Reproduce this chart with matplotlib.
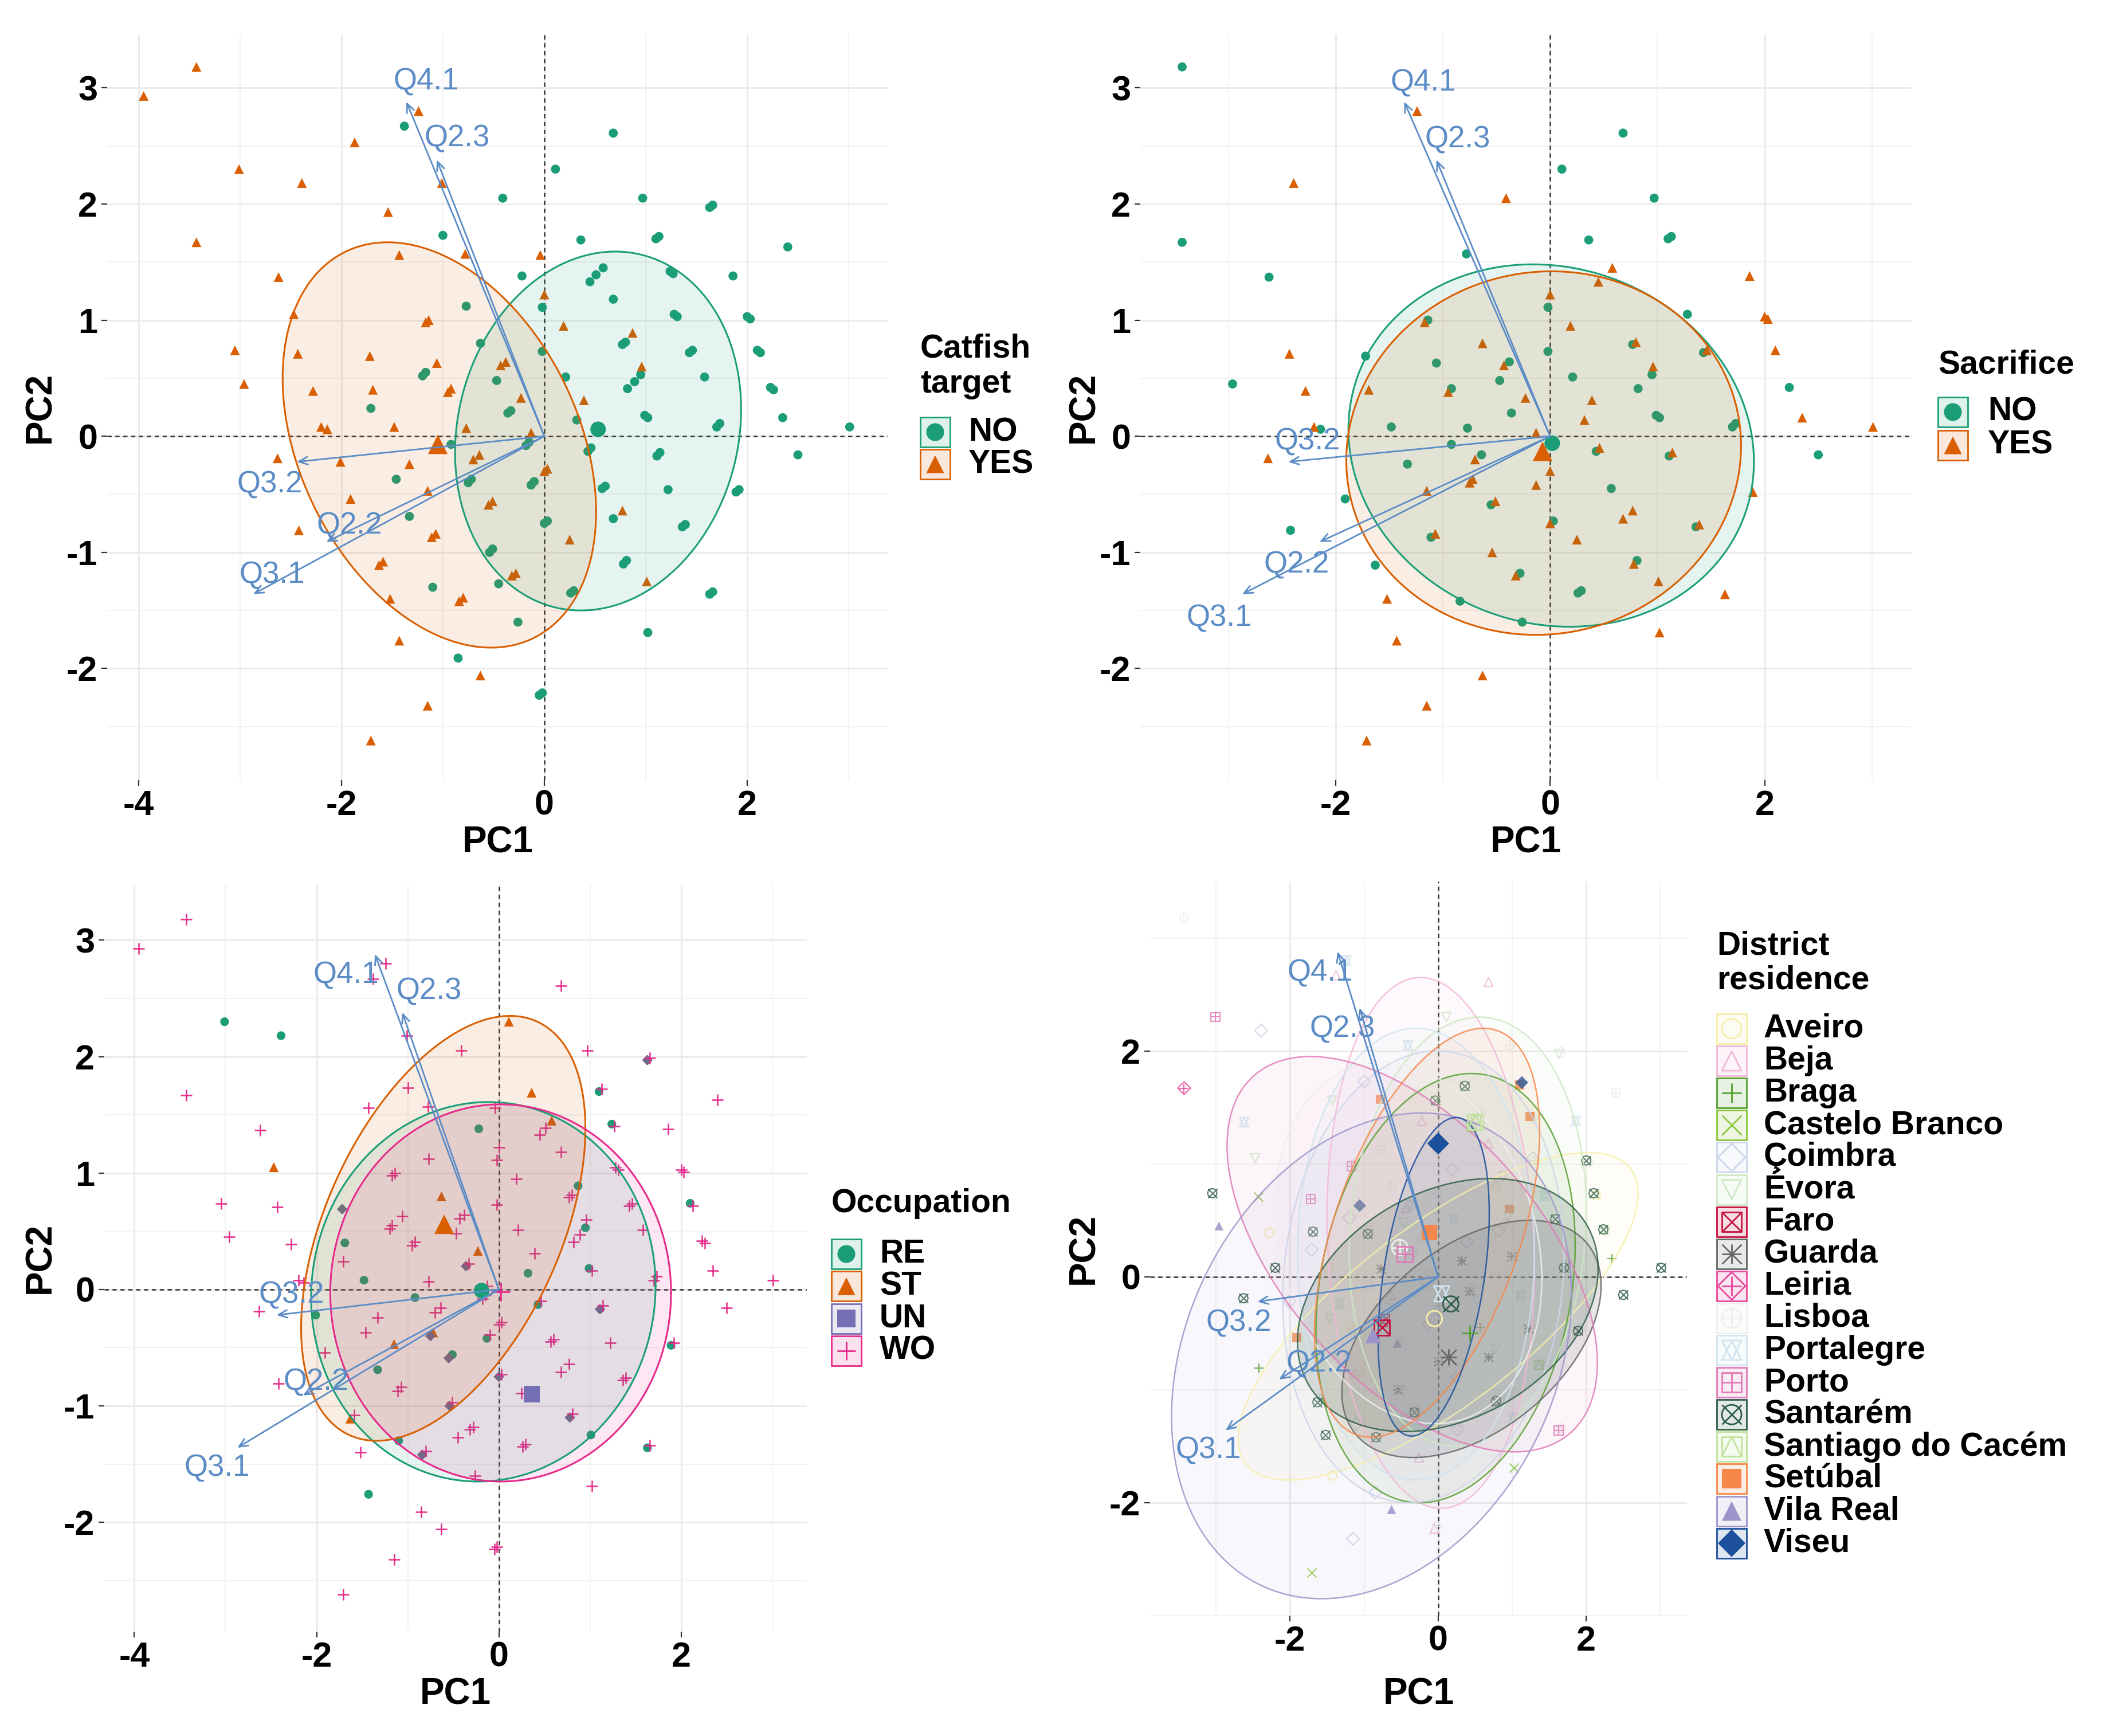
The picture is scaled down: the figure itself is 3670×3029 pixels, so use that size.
import numpy as np
import matplotlib.pyplot as plt
from matplotlib.colors import to_rgba
from matplotlib.patches import Rectangle

plt.rcParams['font.family'] = ['Liberation Sans', 'DejaVu Sans']
plt.rcParams['font.weight'] = 'bold'
plt.rcParams['axes.unicode_minus'] = False

W, H = 3670, 3029
fig = plt.figure(figsize=(W / 100, H / 100), dpi=100)

# ---------------- data ----------------
# PCA scores of the respondents (same people in the four panels)
pc1 = [-3.95, -3.43, -3.01, -2.39, -1.87, -1.54, -3.43, -2.62, -1.43, -1.24,
       -1.38, -1.01, -1.00, -0.78, -2.47, -0.77, -1.17, -1.14, -3.05, -2.43,
       -1.72, -0.63, -1.06, -2.96, -2.28, -1.69, -1.20, -1.17, -0.95, -0.92,
       -0.47, -0.43, -0.38, -1.71, -2.20, -2.14, -1.48, -0.77, -0.36, -0.33,
       -0.92, -2.63, -2.01, -1.33, -0.70, -0.64, -1.46, -0.75, -0.72, -1.15,
       -1.91, -0.55, -0.51, -2.42, -1.33, -1.11, -1.07, -0.54, -0.51, -1.63,
       -1.59, -1.52, -1.10, -0.84, -0.80, -0.45, -1.43, -0.85, -0.63, -1.15,
       -1.71, 0.68, 0.11, -0.41, 0.97, 1.63, 1.66, 0.36, 1.10, 1.13,
       2.40, -0.04, -0.22, 0.45, 0.51, 0.58, 1.24, 1.27, 1.86, 0.00,
       0.68, -0.02, 1.28, 1.31, 2.00, 2.03, 0.19, 0.87, 0.77, 0.80,
       1.43, 1.46, 2.10, 2.13, -0.02, 0.96, 0.82, 0.89, 0.95, 0.21,
       1.58, 2.23, 2.26, -0.23, 0.39, 0.99, 1.02, 1.70, 1.73, 2.35,
       3.01, 0.32, -0.13, -0.18, -0.15, 0.43, 0.46, 1.11, 1.14, 2.50,
       -0.13, -0.10, 0.00, 0.03, 0.57, 0.60, 1.22, 1.89, 1.92, 0.77,
       0.68, 0.00, 0.03, 0.25, 1.36, 1.39, -0.32, -0.28, 0.78, 0.81,
       1.01, 0.26, 0.29, 1.63, 1.66, -0.26, 1.02, -0.05, -0.02]
pc2 = [2.93, 3.18, 2.30, 2.18, 2.53, 1.93, 1.67, 1.37, 1.56, 2.80,
       2.67, 2.18, 1.73, 1.57, 1.05, 1.12, 0.98, 1.00, 0.74, 0.71,
       0.69, 0.80, 0.63, 0.45, 0.39, 0.40, 0.52, 0.55, 0.38, 0.41,
       0.48, 0.61, 0.64, 0.24, 0.08, 0.06, 0.08, 0.07, 0.20, 0.22,
       -0.07, -0.19, -0.22, -0.24, -0.20, -0.16, -0.37, -0.40, -0.37, -0.47,
       -0.54, -0.59, -0.56, -0.81, -0.69, -0.87, -0.84, -1.00, -0.97, -1.11,
       -1.08, -1.40, -1.30, -1.42, -1.39, -1.27, -1.76, -1.91, -2.06, -2.32,
       -2.62, 2.61, 2.30, 2.05, 2.05, 1.97, 1.99, 1.69, 1.70, 1.72,
       1.63, 1.56, 1.38, 1.33, 1.39, 1.45, 1.42, 1.40, 1.38, 1.22,
       1.18, 1.11, 1.05, 1.03, 1.03, 1.01, 0.95, 0.89, 0.79, 0.81,
       0.72, 0.74, 0.74, 0.72, 0.73, 0.60, 0.41, 0.47, 0.53, 0.51,
       0.51, 0.42, 0.40, 0.33, 0.31, 0.18, 0.16, 0.08, 0.11, 0.16,
       0.08, 0.14, 0.03, -0.08, -0.05, -0.13, -0.10, -0.17, -0.14, -0.16,
       -0.42, -0.39, -0.30, -0.28, -0.45, -0.43, -0.46, -0.48, -0.46, -0.64,
       -0.71, -0.75, -0.73, -0.89, -0.78, -0.76, -1.20, -1.18, -1.10, -1.07,
       -1.25, -1.35, -1.33, -1.36, -1.34, -1.60, -1.69, -2.23, -2.21]

# group of each respondent ('-' = missing answer)
catfish = list('YYYYYYYYYY' 'NYNYYNYYYY' 'YNYYYYNNYY' 'NYYNYYYYNN' 'NYYYYYNNNY'
               'YYYYNYYNNY' 'YYNYYNYNYY' 'YNNNNNNNNN' 'NYNNNNNNNY' 'NNNNNNYYNN'
               'NNNNNYNNNN' 'NNNYYNNNNN' 'NNYNNNNNNN' 'NNYYNNNNNY' 'NNNYNNYYNN'
               'YNNNNNNNN')
sacrifice = list('-N-Y--NN-Y' '---N--YN-Y' 'NYNNYY--YN' 'NYN-YNNNN-' 'NY-NYN-YYY'
                 'NNYN-NYY-N' '-Y-N--Y-YY' 'YNNYN--NNN' '---Y-Y--YY' '-NN-YYY-NY'
                 'NYY-NYN-NN' '-N-YYNNNNY' 'YYY--NYNYN' 'Y-Y-N--Y-Y' 'YYNYNYYNYN'
                 'YNNY-NY--')
occupation = list('WWRR--WWWW' 'WWWWSWWWWW' 'USWWWRWWWW' 'WWWWWWRWUW' 'RWRWWWWUSS'
                  'WURWRWWUWS' 'WWRUWWRWWW' 'WWSWWUWSRW' 'WWRWWSRWWW' 'WWWWWWWRWW'
                  'WWRWWWWWRW' 'WWWSWRWWWW' 'WRWWWRWUWW' 'RWWWWWWRWW' 'WUWWWWWWUW'
                  'RWWRWWWWW')
district = ['-', 'LIS', 'PTO', 'COI', '-', '-', 'LEI', 'POR', 'EVO', 'POR',
            'BEJ', 'LIS', 'COI', 'SET', 'EVO', 'LIS', 'PTO', 'LIS', 'SAN', 'CBR',
            'PTO', 'LIS', 'VIS', 'VRE', 'AVE', 'SAN', 'COI', 'LIS', 'SAN', 'LIS',
            'EVO', 'BEJ', 'POR', 'COI', 'SAN', 'LIS', 'AVE', 'GUA', 'COI', 'LIS',
            'LIS', 'SAN', 'COI', 'POR', 'LIS', 'BEJ', 'EVO', 'FAR', 'FAR', 'AVE',
            'SET', 'VRE', 'LIS', 'BRA', 'COI', 'LIS', 'AVE', 'GUA', 'LIS', 'SAN',
            'POR', 'SAN', 'COI', 'SAN', 'LIS', 'EVO', 'AVE', 'COI', 'VRE', 'COI',
            'CBR', 'BEJ', 'EVO', 'POR', 'LIS', 'EVO', 'LIS', 'SAN', 'SET', 'VIS',
            'LIS', 'SAN', 'BEJ', 'SCA', 'SCA', 'LIS', 'SET', 'LIS', 'POR', 'LIS',
            'BEJ', 'LIS', 'COI', 'LIS', 'SAN', 'LIS', 'COI', 'EVO', 'AVE', 'LIS',
            'POR', 'LIS', 'SAN', 'AVE', 'LIS', 'SET', 'COI', 'LIS', 'EVO', 'POR',
            'SAN', 'SAN', 'EVO', 'LIS', 'COI', 'GUA', 'LIS', 'SAN', 'LIS', 'BRA',
            'SAN', 'GUA', 'LIS', 'LIS', 'COI', 'GUA', 'LIS', 'POR', 'LIS', 'SAN',
            'COI', 'LIS', 'POR', 'LIS', 'BRA', 'LIS', 'GUA', 'SAN', 'LIS', 'EVO',
            'GUA', 'GUA', 'LIS', 'COI', 'SCA', 'LIS', 'SAN', 'LIS', 'SAN', 'LIS',
            'POR', 'COI', 'LIS', 'PTO', 'LIS', 'BEJ', 'CBR', 'BEJ', 'LIS']

# variable loadings (arrows)
var_names = ['Q4.1', 'Q2.3', 'Q3.2', 'Q2.2', 'Q3.1']
load_pc1 = [-1.36, -1.06, -2.44, -2.15, -2.87]
load_pc2 = [2.88, 2.38, -0.22, -0.91, -1.36]

# factor levels
yn_codes = ['N', 'Y']
yn_names = ['NO', 'YES']
occ_codes = ['R', 'S', 'U', 'W']
occ_names = ['RE', 'ST', 'UN', 'WO']
dist_codes = ['AVE', 'BEJ', 'BRA', 'CBR', 'COI', 'EVO', 'FAR', 'GUA', 'LEI',
              'LIS', 'POR', 'PTO', 'SAN', 'SCA', 'SET', 'VRE', 'VIS']
dist_names = ['Aveiro', 'Beja', 'Braga', 'Castelo Branco', 'Çoimbra', 'Évora',
              'Faro', 'Guarda', 'Leiria', 'Lisboa', 'Portalegre', 'Porto',
              'Santarém', 'Santiago do Cacém', 'Setúbal', 'Vila Real', 'Viseu']

# group means (pc1, pc2)
catfish_mean = [(0.53, 0.06), (-1.05, -0.07)]
sacrifice_mean = [(0.02, -0.06), (-0.07, -0.13)]
occ_mean = [(-0.19, -0.01), (-0.60, 0.56), (0.36, -0.90), (0.02, -0.02)]
dist_mean = {'VIS': (0.00, 1.18), 'SET': (-0.12, 0.39), 'LIS': (-0.52, 0.26),
             'PTO': (-0.45, 0.20), 'FAR': (-0.76, -0.45), 'VRE': (-0.88, -0.52),
             'SAN': (0.17, -0.24), 'BRA': (0.43, -0.50), 'GUA': (0.14, -0.71),
             'SCA': (0.50, 1.37), 'AVE': (-0.05, -0.37), 'POR': (0.05, -0.15)}

# concentration ellipses: centre, half extent on PC1 / PC2, correlation
catfish_ell = [(0.53, 0.045, 1.41, 1.545, 0.12), (-1.035, -0.075, 1.545, 1.745, -0.33)]
sacrifice_ell = [(0.01, -0.08, 1.89, 1.56, -0.09), (-0.06, -0.145, 1.84, 1.565, 0.04)]
occ_ell = {'R': (-0.17, -0.02, 1.89, 1.63, 0.03), 'S': (-0.61, 0.525, 1.56, 1.825, 0.47),
           'W': (0.02, -0.03, 1.87, 1.62, 0.0)}
dist_ell = {'AVE': (0.0, -0.35, 2.7, 1.45, 0.75), 'BEJ': (-0.1, 0.3, 1.4, 2.35, -0.1),
            'COI': (-0.2, 0.0, 1.9, 2.0, 0.1), 'EVO': (0.4, 0.4, 1.6, 1.9, 0.1),
            'LIS': (-0.4, 0.3, 1.8, 1.6, -0.2), 'POR': (-0.3, 0.2, 1.6, 2.0, 0.0),
            'PTO': (-0.35, 0.2, 2.5, 1.75, -0.55), 'SET': (-0.15, 0.39, 1.52, 1.81, 0.5),
            'BRA': (0.1, -0.1, 1.75, 1.9, 0.2), 'VRE': (-0.9, -0.7, 2.7, 2.15, 0.25),
            'SAN': (0.13, -0.25, 2.03, 1.12, 0.29), 'GUA': (0.45, -0.55, 1.75, 1.05, 0.45),
            'VIS': (-0.06, 0.0, 0.75, 1.41, 0.4)}

# ---------------- styles ----------------
ARROW = '#5B8CC6'
GREEN, ORANGE, PURPLE, PINK = '#1B9E77', '#D95F02', '#7570B3', '#E7298A'
dist_colors = ['#F7EFA8', '#F2B8D8', '#55A02F', '#8CC63F', '#CDD5EA', '#CDE8C4',
               '#C4123F', '#666666', '#E8479C', '#EFEFEF', '#CFE3EE', '#E27AB8',
               '#2E5E48', '#BFE39B', '#F7874A', '#9C95CB', '#1C4F9C']
dist_shapes = ['circle_o', 'tri_o', 'plus', 'cross', 'diam_o', 'tri_down_o',
               'sq_cross', 'asterisk', 'diam_plus', 'circle_plus', 'star_david',
               'sq_plus', 'circle_cross', 'sq_tri', 'sq_f', 'tri_f', 'diam_f']

SHAPES = {
    'circle_f': [('o', True)], 'tri_f': [('^', True)], 'sq_f': [('s', True)],
    'diam_f': [('D', True)], 'plus': [('+', None)], 'cross': [('x', None)],
    'circle_o': [('o', False)], 'tri_o': [('^', False)], 'diam_o': [('D', False)],
    'tri_down_o': [('v', False)], 'sq_cross': [('s', False), ('x', None)],
    'asterisk': [('+', None), ('x', None)], 'diam_plus': [('D', False), ('+', None)],
    'circle_plus': [('o', False), ('+', None)], 'star_david': [('^', False), ('v', False)],
    'sq_plus': [('s', False), ('+', None)], 'circle_cross': [('o', False), ('x', None)],
    'sq_tri': [('s', False), ('^', False)],
}


def draw_shape(ax, x, y, shape, color, s, lw=1.6, z=4, alpha=1.0):
    for m, filled in SHAPES[shape]:
        if filled is True:
            ax.scatter(x, y, s=s, marker=m, color=color, edgecolors='none', zorder=z,
                       alpha=alpha)
        elif filled is False:
            ax.scatter(x, y, s=s, marker=m, facecolors='none', edgecolors=color,
                       linewidths=lw, zorder=z, alpha=alpha)
        else:
            ax.scatter(x, y, s=s, marker=m, color=color, linewidths=lw, zorder=z,
                       alpha=alpha)


def draw_groups(ax, labels, codes, colors, shapes, sizes, lw=1.6, alpha=1.0):
    x, y = np.array(pc1), np.array(pc2)
    lab = np.array(labels)
    for c, col, shp, s in zip(codes, colors, shapes, sizes):
        m = lab == c
        draw_shape(ax, x[m], y[m], shp, col, s, lw, z=2.5, alpha=alpha)


def make_axes(l, t, r, b, xlim, ylim, xmaj, xmnr, ymaj, ymnr, xlab_y, ylab_x):
    ax = fig.add_axes([l / W, 1 - b / H, (r - l) / W, (b - t) / H])
    ax.set_xlim(*xlim)
    ax.set_ylim(*ylim)
    ax.set_xticks(xmaj)
    ax.set_xticks(xmnr, minor=True)
    ax.set_yticks(ymaj)
    ax.set_yticks(ymnr, minor=True)
    ax.grid(which='major', color='#EBEBEB', lw=2.2)
    ax.grid(which='minor', color='#F2F2F2', lw=1.4)
    ax.set_axisbelow(True)
    for sp in ax.spines.values():
        sp.set_visible(False)
    ax.tick_params(which='major', length=7, width=1.6, color='#333333', pad=5,
                   labelsize=44)
    ax.tick_params(which='minor', length=0)
    ax.axhline(0, color='#333333', lw=1.8, ls=(0, (3, 2.5)), zorder=1.5)
    ax.axvline(0, color='#333333', lw=1.8, ls=(0, (3, 2.5)), zorder=1.5)
    ax.set_xlabel('PC1', fontsize=46, fontweight='bold')
    ax.xaxis.set_label_coords(0.5, (b - xlab_y) / (b - t))
    ax.xaxis.label.set_va('center')
    ax.set_ylabel('PC2', fontsize=46, fontweight='bold')
    ax.yaxis.set_label_coords((ylab_x - l) / (r - l), 0.5)
    ax.yaxis.label.set_va('center')
    ax.yaxis.label.set_ha('center')
    return ax


def ellipse(ax, e, color, alpha=0.11, lw=2.2, edge_alpha=1.0):
    cx, cy, sx, sy, r = e
    t = np.linspace(0, 2 * np.pi, 240)
    ex = cx + sx * np.cos(t)
    ey = cy + sy * np.cos(t - np.arccos(r))
    ax.fill(ex, ey, facecolor=color, alpha=alpha, lw=0, zorder=3)
    ax.plot(ex, ey, color=color, lw=lw, zorder=3.1, alpha=edge_alpha)


def arrows(ax, offsets):
    for name, lx, ly, (dx, dy) in zip(var_names, load_pc1, load_pc2, offsets):
        ax.annotate('', xy=(lx, ly), xytext=(0, 0), zorder=6,
                    arrowprops=dict(arrowstyle='->,head_length=0.5,head_width=0.22',
                                    color=ARROW, lw=2.0, shrinkA=0, shrinkB=0,
                                    mutation_scale=22))
        ax.annotate(name, xy=(lx, ly), xytext=(dx, dy), textcoords='offset pixels',
                    ha='center', va='center', color=ARROW, fontsize=38,
                    fontweight='normal', zorder=7)


ov = fig.add_axes([0, 0, 1, 1], zorder=10)
ov.set_xlim(0, W)
ov.set_ylim(H, 0)
ov.axis('off')


def legend(title, labels, colors, shapes, x0, y_title, y_first, step, tx, s, box=52):
    for i, line in enumerate(title):
        ov.text(x0, y_title + i * 61, line, fontsize=41, fontweight='bold',
                ha='left', va='center')
    for k, (lab, col, shp) in enumerate(zip(labels, colors, shapes)):
        yc = y_first + k * step
        ov.add_patch(Rectangle((x0, yc - box / 2), box, box,
                               facecolor=to_rgba(col, 0.14), edgecolor=col, lw=2))
        draw_shape(ov, [x0 + box / 2], [yc], shp, col, s, lw=2, z=11)
        ov.text(tx, yc, lab, fontsize=41, fontweight='bold', ha='left', va='center')


yticks_a = [-2, -1, 0, 1, 2, 3]
yminor_a = [-2.5, -1.5, -0.5, 0.5, 1.5, 2.5]

# ---------------- panel 1: catfish target ----------------
ax1 = make_axes(187, 60, 1550, 1361, (-4.31, 3.39), (-2.96, 3.46), [-4, -2, 0, 2],
                [-3, -1, 1, 3], yticks_a, yminor_a, 1470, 70)
draw_groups(ax1, catfish, yn_codes, [GREEN, ORANGE], ['circle_f', 'tri_f'], [130, 150])
for e, col in zip(catfish_ell, [GREEN, ORANGE]):
    ellipse(ax1, e, col)
for (mx, my), col, shp, s in zip(catfish_mean, [GREEN, ORANGE], ['circle_f', 'tri_f'], [380, 600]):
    draw_shape(ax1, [mx], [my], shp, col, s, z=5)
arrows(ax1, [(35, 35), (35, 37), (-47, -40), (40, 28), (33, 33)])
legend(['Catfish', 'target'], yn_names, [GREEN, ORANGE], ['circle_f', 'tri_f'],
       1606, 609, 754, 56, 1690, 500)

# ---------------- panel 2: sacrifice ----------------
ax2 = make_axes(1990, 60, 3336, 1361, (-3.82, 3.37), (-2.96, 3.46), [-2, 0, 2],
                [-3, -1, 1, 3], yticks_a, yminor_a, 1470, 1891)
draw_groups(ax2, sacrifice, yn_codes, [GREEN, ORANGE], ['circle_f', 'tri_f'], [130, 150])
for e, col in zip(sacrifice_ell, [GREEN, ORANGE]):
    ellipse(ax2, e, col)
for (mx, my), col, shp, s in zip(sacrifice_mean, [GREEN, ORANGE], ['circle_f', 'tri_f'], [380, 600]):
    draw_shape(ax2, [mx], [my], shp, col, s, z=5)
arrows(ax2, [(33, 33), (37, 35), (33, 35), (-40, -40), (-40, -42)])
legend(['Sacrifice'], yn_names, [GREEN, ORANGE], ['circle_f', 'tri_f'],
       3382, 637, 719, 58, 3469, 500)

# ---------------- panel 3: occupation ----------------
ax3 = make_axes(182, 1543, 1408, 2847, (-4.33, 3.38), (-2.94, 3.48), [-4, -2, 0, 2],
                [-3, -1, 1, 3], yticks_a, yminor_a, 2956, 70)
draw_groups(ax3, occupation, occ_codes, [GREEN, ORANGE, '#6F6A8C', PINK],
            ['circle_f', 'tri_f', 'diam_f', 'plus'], [120, 150, 90, 220], lw=1.8)
for c, col in zip(occ_codes, [GREEN, ORANGE, PURPLE, PINK]):
    if c in occ_ell:
        ellipse(ax3, occ_ell[c], col)
for (mx, my), col, shp, s in zip(occ_mean[::-1], [PINK, PURPLE, ORANGE, GREEN],
                                 ['plus', 'sq_f', 'tri_f', 'circle_f'], [500, 420, 600, 380]):
    draw_shape(ax3, [mx], [my], shp, col, s, lw=2, z=5)
arrows(ax3, [(-51, -37), (47, 37), (26, 35), (23, 23), (-35, -35)])
legend(['Occupation'], occ_names, [GREEN, ORANGE, PURPLE, PINK],
       ['circle_f', 'tri_f', 'sq_f', 'plus'], 1451, 2100, 2188, 56.3, 1535, 500)

# ---------------- panel 4: district of residence ----------------
ax4 = make_axes(2007, 1538, 2944, 2819, (-3.89, 3.36), (-3.0, 3.5), [-2, 0, 2],
                [-3, -1, 1, 3], [-2, 0, 2], [-3, -1, 1, 3], 2956, 1891)
draw_groups(ax4, district, dist_codes, dist_colors, dist_shapes, [130] * 17,
            lw=1.5, alpha=0.85)
for c, col in zip(dist_codes, dist_colors):
    if c in dist_ell:
        a = 0.16 if c in ('SAN', 'GUA') else 0.07
        ellipse(ax4, dist_ell[c], col, alpha=a, lw=1.8, edge_alpha=0.85)
for c, col, shp in zip(dist_codes, dist_colors, dist_shapes):
    if c in dist_mean:
        mx, my = dist_mean[c]
        draw_shape(ax4, [mx], [my], shp, col, 380, lw=2, z=5)
arrows(ax4, [(-30, -37), (-30, -37), (-33, -37), (70, 28), (-30, -35)])
legend(['District', 'residence'], dist_names, dist_colors, dist_shapes,
       2996, 1650, 1795, 56.1, 3078, 600)

fig.savefig('out.png', dpi=100)
